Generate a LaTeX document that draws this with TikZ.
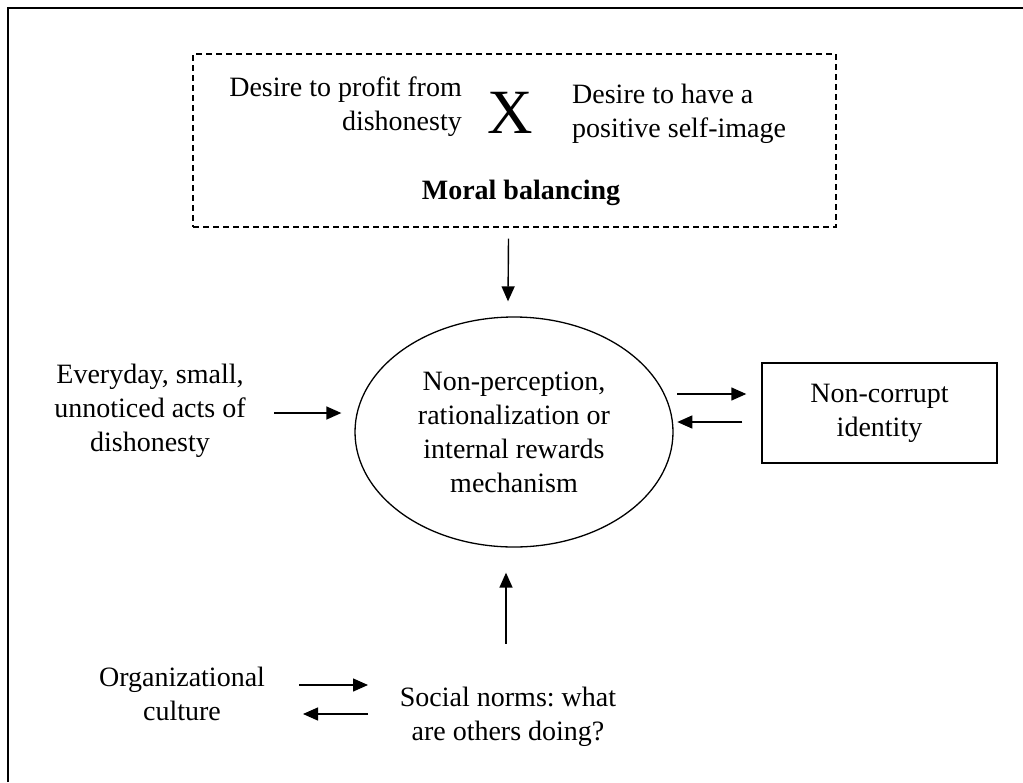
\documentclass[tikz,border=0pt]{standalone}
\usepackage{fontspec}
\setmainfont{Liberation Serif}
\usetikzlibrary{arrows.meta,shapes.geometric,calc}
\frenchspacing
\begin{document}
\begin{tikzpicture}[x=1pt,y=-1pt,
  txt/.style={font=\fontsize{28}{34}\selectfont, inner sep=0pt, align=center},
  arr/.style={line width=1.4pt, -{Triangle[length=15pt,width=13pt]}},
  dashbox/.style={draw, line width=1.3pt, dash pattern=on 6pt off 4pt,
    minimum width=643pt, minimum height=173pt, inner sep=0pt},
  plainbox/.style={draw, line width=1.4pt, minimum width=235pt,
    minimum height=100pt, inner sep=0pt},
  oval/.style={ellipse, draw, line width=1.3pt, minimum width=318pt,
    minimum height=230pt, inner sep=0pt}]
\useasboundingbox (0,0) rectangle (1023,782);

% page frame
\draw[line width=2pt] (8,782) -- (8,8) -- (1023,8);

% moral balancing panel
\node[dashbox] (mbox) at (514.5,140.5) {};
\node[txt, align=right, anchor=east] (profit) at (462,107)
  {Desire to profit from\\dishonesty};
\node[inner sep=0pt, font=\fontsize{63}{63}\selectfont] (times) at (510,113) {X};
\node[txt, align=left, anchor=west] (image) at (572,114)
  {Desire to have a\\positive self-image};
\node[txt, font=\fontsize{28}{34}\selectfont\bfseries] (moral) at (521,193)
  {Moral balancing};

% central mechanism
\node[oval, txt] (core) at (514,432)
  {Non-perception,\\rationalization or\\internal rewards\\mechanism};

% identity box
\node[plainbox, txt] (ident) at (879.5,413) {Non-corrupt\\identity};

% side and bottom inputs
\node[txt] (acts) at (150,411) {Everyday, small,\\unnoticed acts of\\dishonesty};
\node[txt] (org) at (182,694) {Organizational\\culture};
\node[txt] (social) at (508,717) {Social norms: what\\are others doing?};

% connectors
\draw[arr] ($(mbox.south)+(-6,11)$) -- ($(core.north)+(-6,-15)$);
\draw[arr] ($(core.west)+(-80,-19)$) -- ($(core.west)+(-13,-19)$);
\draw[arr] ($(ident.west)+(-84,-19)$) -- ($(ident.west)+(-15,-19)$);
\draw[arr] ($(ident.west)+(-19,9)$) -- ($(ident.west)+(-84,9)$);
\draw[arr] ($(core.south)+(-8,96)$) -- ($(core.south)+(-8,25)$);
\draw[arr] ($(social.center)+(-209,-32)$) -- ($(social.center)+(-140,-32)$);
\draw[arr] ($(social.center)+(-140,-3)$) -- ($(social.center)+(-205,-3)$);
\end{tikzpicture}
\end{document}
